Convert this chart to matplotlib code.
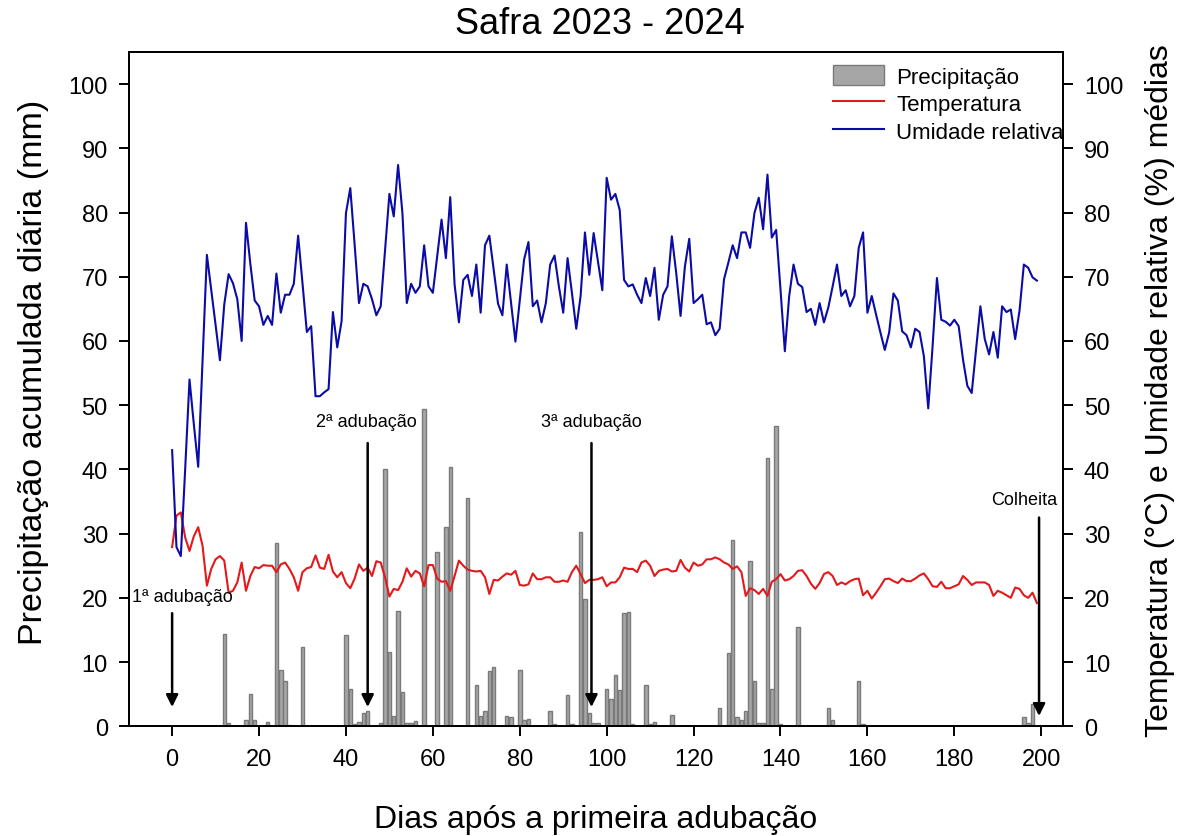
import matplotlib
matplotlib.use("Agg")
import matplotlib.pyplot as plt
from matplotlib.patches import Patch
from matplotlib.lines import Line2D

plt.rcParams['font.family'] = ['Liberation Sans', 'DejaVu Sans']

# Daily series, days after the first fertilization
days = list(range(200))

humidity = [
    43.0, 27.9, 26.5, 40.0, 54.0, 47.0, 40.4, 57.0, 73.4, 68.0,
    62.5, 57.0, 65.7, 70.4, 69.0, 66.5, 60.0, 78.4, 72.0, 66.3,
    65.4, 62.5, 63.9, 62.5, 70.5, 64.4, 67.2, 67.2, 68.9, 76.4,
    69.0, 61.4, 62.3, 51.4, 51.4, 52.0, 52.5, 64.5, 59.0, 63.1,
    79.9, 83.8, 75.0, 65.9, 68.9, 68.5, 66.5, 64.0, 65.4, 74.2,
    82.9, 79.4, 87.4, 79.9, 65.9, 68.9, 67.5, 68.5, 74.9, 68.5,
    67.5, 73.2, 78.9, 72.9, 82.4, 68.8, 62.9, 69.5, 70.3, 67.0,
    71.9, 64.4, 74.9, 76.4, 71.1, 65.8, 64.0, 71.9, 65.9, 59.9,
    66.3, 72.7, 75.4, 65.4, 66.3, 62.9, 65.9, 71.9, 73.3, 68.5,
    64.4, 72.9, 67.5, 61.9, 67.0, 76.9, 70.3, 76.8, 72.4, 67.9,
    85.4, 82.0, 82.9, 80.4, 69.5, 68.5, 68.8, 67.2, 65.9, 69.8,
    67.0, 71.4, 63.3, 67.2, 68.5, 76.3, 70.6, 63.9, 71.6, 75.9,
    65.9, 66.5, 67.2, 62.6, 62.9, 60.9, 61.9, 69.6, 72.2, 74.9,
    72.9, 76.9, 76.9, 74.5, 79.9, 82.3, 77.4, 85.9, 76.1, 77.3,
    68.0, 58.4, 67.0, 71.9, 68.9, 68.4, 64.5, 65.0, 62.5, 65.9,
    62.9, 65.2, 68.5, 71.9, 67.0, 67.9, 65.4, 67.0, 74.5, 76.9,
    64.4, 67.0, 64.1, 61.3, 58.6, 61.3, 67.4, 66.3, 61.5, 60.9,
    59.0, 61.9, 61.4, 57.6, 49.5, 59.2, 69.8, 63.3, 63.0, 62.4,
    63.3, 62.3, 57.1, 53.0, 51.9, 58.7, 65.4, 60.3, 57.9, 61.4,
    57.4, 65.4, 64.5, 64.9, 60.3, 64.7, 71.9, 71.4, 69.9, 69.4,
]

temperature = [
    27.9, 32.8, 33.3, 29.4, 27.3, 29.6, 31.0, 28.1, 21.9, 24.5,
    26.0, 26.5, 25.8, 20.8, 21.1, 22.4, 25.5, 21.1, 23.4, 24.8,
    24.6, 25.1, 25.0, 25.0, 24.0, 25.2, 25.5, 24.5, 23.2, 21.1,
    24.0, 24.6, 24.8, 26.6, 24.7, 24.5, 26.7, 24.1, 23.2, 24.0,
    22.3, 21.5, 23.0, 25.2, 24.2, 24.7, 23.4, 25.7, 25.5, 23.2,
    20.2, 21.4, 21.2, 22.5, 24.6, 23.3, 24.2, 23.8, 21.8, 25.1,
    25.1, 23.0, 22.5, 22.6, 21.1, 23.4, 25.8, 25.0, 24.4, 24.2,
    24.1, 24.2, 23.2, 20.6, 22.8, 22.7, 23.3, 23.8, 23.6, 24.2,
    22.0, 21.9, 22.1, 23.8, 22.9, 22.9, 23.2, 23.2, 22.5, 22.5,
    22.7, 22.5, 24.0, 25.0, 23.7, 22.3, 22.8, 22.8, 22.9, 23.2,
    21.8, 22.4, 22.4, 23.2, 24.7, 24.5, 24.5, 24.0, 25.5, 25.8,
    25.0, 23.4, 24.2, 24.4, 24.5, 24.1, 24.2, 25.9, 24.7, 24.1,
    25.5, 25.0, 25.2, 26.0, 26.0, 26.3, 26.0, 25.5, 25.2, 24.5,
    24.9, 24.0, 20.3, 21.5, 21.2, 20.6, 21.4, 20.3, 22.5, 22.9,
    23.7, 22.7, 22.9, 23.4, 24.2, 24.3, 23.4, 22.2, 21.4, 22.3,
    23.7, 24.0, 23.4, 22.0, 22.4, 22.1, 22.6, 22.9, 23.0, 20.4,
    21.1, 19.9, 20.8, 21.8, 22.9, 23.0, 22.6, 22.3, 23.0, 22.6,
    22.6, 23.0, 23.5, 23.8, 22.9, 21.8, 21.7, 22.5, 21.5, 21.5,
    21.8, 22.1, 23.4, 22.8, 22.0, 22.4, 22.4, 22.4, 22.0, 20.3,
    21.1, 20.8, 20.4, 20.0, 21.6, 21.4, 20.4, 20.0, 20.8, 19.2,
]

# Days with rainfall and the daily accumulated precipitation (mm)
rain_days = [
    12, 13, 17, 18, 19, 22, 24, 25, 26, 27, 30,
    40, 41, 42, 43, 44, 45, 48, 49, 50, 51, 52, 53, 54, 55, 56, 58,
    61, 63, 64, 68, 70, 71, 72, 73, 74, 77, 78, 80, 81, 82, 87, 88,
    91, 92, 94, 95, 96, 97, 98, 100, 101, 102, 103, 104, 105, 106,
    109, 110, 111, 115, 126, 128, 129, 130, 131, 132, 133, 134, 135,
    136, 137, 138, 139, 140, 144, 151, 152, 158, 159, 196, 197, 198,
]
rain_mm = [
    14.4, 0.5, 1.0, 5.0, 1.0, 0.6, 28.5, 8.8, 7.0, 0.2, 12.3,
    14.2, 5.8, 0.3, 0.7, 2.0, 2.3, 0.5, 40.0, 11.6, 1.6, 18.0, 5.3, 0.5, 0.5, 0.8, 49.4,
    27.1, 31.0, 40.4, 35.6, 6.5, 1.6, 2.3, 8.6, 9.3, 1.6, 1.4, 8.8, 1.0, 1.2, 2.4, 0.3,
    4.9, 0.3, 30.3, 19.8, 2.1, 0.5, 0.5, 5.8, 4.2, 8.0, 5.6, 17.6, 17.8, 0.3,
    6.5, 0.3, 0.7, 1.8, 2.8, 11.4, 29.0, 1.4, 1.0, 2.4, 25.8, 7.0, 0.5,
    0.5, 41.8, 5.8, 46.8, 0.3, 15.4, 2.8, 1.0, 7.0, 0.3, 1.4, 0.5, 3.5,
]

# Management events: (label, day, label height, arrow top, arrow tip)
events = [
    ("1ª adubação", 0, 20.2, 17.6, 3.0),
    ("2ª adubação", 45, 47.5, 44.1, 3.0),
    ("3ª adubação", 96.5, 47.5, 44.1, 3.0),
    ("Colheita", 199.5, 35.3, 32.5, 1.6),
]
label_dx = {"1ª adubação": 2.3, "2ª adubação": -0.2, "3ª adubação": 0.0, "Colheita": -3.5}

x_ticks = list(range(0, 201, 20))
y_ticks = list(range(0, 101, 10))

RAIN_FACE = "#a6a6a6"
RAIN_EDGE = "#7a7a7a"
TEMP_COLOR = "#e3191c"
HUM_COLOR = "#0b0ba6"

fig = plt.figure(figsize=(11.87, 8.37), dpi=100)
ax = fig.add_axes([0.1084, 0.1311, 0.7871, 0.8056])
ax2 = ax.twinx()

ax.bar(rain_days, rain_mm, width=0.8, color=RAIN_FACE, edgecolor=RAIN_EDGE,
       linewidth=1.0, zorder=2)
ax2.plot(days, temperature, color=TEMP_COLOR, lw=1.5, zorder=3)
ax2.plot(days, humidity, color=HUM_COLOR, lw=1.5, zorder=3)

for a in (ax, ax2):
    a.set_xlim(-10, 205)
    a.set_ylim(0, 105)
    a.set_yticks(y_ticks)
    a.tick_params(direction="out", length=7, width=1.4, labelsize=17, pad=8)
    for s in a.spines.values():
        s.set_linewidth(1.4)
ax.set_xticks(x_ticks)
ax.tick_params(axis="x", pad=9)

for text, day, ty, y0, y1 in events:
    ax2.annotate("", xy=(day, y1), xytext=(day, y0),
                 arrowprops=dict(arrowstyle="-|>", color="black", lw=1.8,
                                 mutation_scale=18, shrinkA=0, shrinkB=0),
                 zorder=5)
    ax2.text(day + label_dx[text], ty, text, ha="center", va="center",
             fontsize=13, zorder=5)

ax.set_xlabel("Dias após a primeira adubação", fontsize=23, labelpad=24)
ax.set_ylabel("Precipitação acumulada diária (mm)", fontsize=24.5, labelpad=14)
ax.yaxis.label.set_y(0.527)
ax2.set_ylabel("Temperatura (°C) e Umidade relativa (%) médias", fontsize=23,
               labelpad=16)
fig.text(0.505, 0.971, "Safra 2023 - 2024", ha="center", va="center", fontsize=26)

handles = [
    Patch(facecolor=RAIN_FACE, edgecolor=RAIN_EDGE, linewidth=1.0),
    Line2D([], [], color=TEMP_COLOR, lw=1.5),
    Line2D([], [], color=HUM_COLOR, lw=1.5),
]
leg = ax2.legend(handles, ["Precipitação", "Temperatura", "Umidade relativa"],
                 loc="upper left", bbox_to_anchor=(833 / 1187, 1 - 66 / 837),
                 bbox_transform=fig.transFigure, frameon=False, fontsize=16,
                 borderpad=0, borderaxespad=0, handlelength=2.3,
                 handleheight=1.0, handletextpad=0.55, labelspacing=0.23)
leg.set_zorder(6)

fig.savefig("out.png", dpi=100)
